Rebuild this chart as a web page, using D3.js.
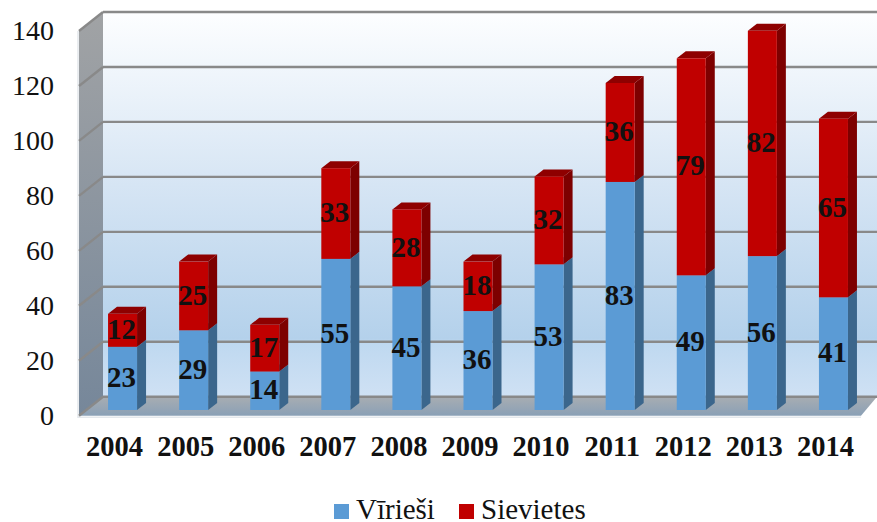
<!DOCTYPE html>
<html>
<head>
<meta charset="utf-8">
<script src="https://cdn.jsdelivr.net/npm/d3@7/dist/d3.min.js"></script>
<style>
html,body{margin:0;padding:0;background:#fff;overflow:hidden}
svg{display:block}
text{font-family:"Liberation Serif",serif;fill:#111}
</style>
</head>
<body>
<div class="canvas"></div>
<script>
const years=['2004','2005','2006','2007','2008','2009','2010','2011','2012','2013','2014'];
const men=[23,29,14,55,45,36,53,83,49,56,41];
const women=[12,25,17,33,28,18,32,36,79,82,65];
const yTicks=[0,20,40,60,80,100,120,140];
const seriesNames=['Vīrieši','Sievietes'];

const svg=d3.select('.canvas').append('svg')
.attr("width",877)
.attr('height',522);

const defs=svg.append('defs');
function gradient(id,stops){
    const g=defs.append('linearGradient').attr('id',id)
    .attr('x1',0).attr('y1',0).attr('x2',0).attr('y2',1);
    stops.forEach(s=>g.append('stop').attr('offset',s[0]).attr('stop-color',s[1]));
}
gradient('backWall',[[0,'#fdfeff'],[0.45,'#d6e5f4'],[0.85,'#b4d1eb'],[0.855,'#bed8f0'],[1,'#cfe1f4']]);
gradient('sideWall',[[0,'#a1a3a5'],[1,'#76879a']]);
gradient('floor',[[0,'#a8adb2'],[1,'#8aa0b6']]);

// front plane of the 3d box, the back wall is shifted by depth
const left=79,right=861,top0=31,bottom0=415.7;
const depth={x:24,y:-19};
const barDepth={x:9,y:-7};
const barShift={x:8,y:-5.7};

const y=d3.scaleLinear().domain([0,140]).range([bottom0,top0]);
const x=d3.scaleBand().domain(years).range([left,right]).paddingInner(0.592).paddingOuter(0.296);

const pts=a=>a.map(p=>p.join(',')).join(' ');

// walls
svg.append('polygon')
.attr('points',pts([[left,y(0)],[left,y(140)],[left+depth.x,y(140)+depth.y],[left+depth.x,y(0)+depth.y]]))
.attr('fill','url(#sideWall)');
svg.append('rect')
.attr('x',left+depth.x).attr('y',y(140)+depth.y)
.attr('width',877-left-depth.x).attr('height',y(0)-y(140))
.attr('fill','url(#backWall)');
svg.append('polygon')
.attr('points',pts([[left,y(0)],[left+depth.x,y(0)+depth.y],[877,y(0)+depth.y],[right,y(0)]]))
.attr('fill','url(#floor)');

// pale edge along the box
svg.append('polyline')
.attr('points',pts([[left-1,y(140)],[left-1,y(0)+1.5],[right,y(0)+1.5]]))
.attr('fill','none').attr('stroke','#e4e8ec').attr('stroke-width',1.5);

// grid
const grid=svg.append('g').attr('fill','none').attr('stroke','#898989').attr('stroke-width',2.4);
grid.selectAll('.back').data(yTicks).enter().append('line')
.attr('x1',left+depth.x).attr('x2',877)
.attr('y1',d=>y(d)+depth.y).attr('y2',d=>y(d)+depth.y);
grid.selectAll('.side').data(yTicks).enter().append('line')
.attr('x1',left).attr('x2',left+depth.x)
.attr('y1',d=>y(d)).attr('y2',d=>y(d)+depth.y);

// bars
function drawSegment(g,x0,w,yBase,yTop,front,side,topFill){
    const d=barDepth;
    g.append('polygon')
    .attr('points',pts([[x0+w,yBase],[x0+w,yTop],[x0+w+d.x,yTop+d.y],[x0+w+d.x,yBase+d.y]]))
    .attr('fill',side);
    g.append('polygon')
    .attr('points',pts([[x0,yTop],[x0+d.x,yTop+d.y],[x0+w+d.x,yTop+d.y],[x0+w,yTop]]))
    .attr('fill',topFill);
    g.append('rect')
    .attr('x',x0).attr('y',yTop).attr('width',w).attr('height',yBase-yTop)
    .attr('fill',front);
}
const bars=svg.append('g');
years.forEach((yr,i)=>{
    const g=bars.append('g');
    const x0=x(yr)+barShift.x,w=x.bandwidth();
    drawSegment(g,x0,w,y(0)+barShift.y,y(men[i])+barShift.y,'#5b9bd5','#3b668c','#4a80b0');
    drawSegment(g,x0,w,y(men[i])+barShift.y,y(men[i]+women[i])+barShift.y,'#c00000','#7d0000','#8e0000');
});

// value labels
const labels=svg.append('g').attr('text-anchor','middle')
.attr('font-size',29).attr('font-weight','bold');
years.forEach((yr,i)=>{
    const cx=x(yr)+barShift.x+x.bandwidth()/2-1;
    labels.append('text').attr('x',cx)
    .attr('y',(y(0)+y(men[i]))/2+barShift.y-1.5).attr('dy','.35em').text(men[i]);
    labels.append('text').attr('x',cx)
    .attr('y',(y(men[i])+y(men[i]+women[i]))/2+barShift.y-1.5).attr('dy','.35em').text(women[i]);
});

// axes
const yAxisGroup=svg.append('g').attr('transform','translate(57,0)');
yAxisGroup.call(d3.axisLeft(y).tickValues(yTicks).tickSize(0).tickPadding(3));
const xAxisGroup=svg.append('g').attr('transform',`translate(0,${bottom0})`);
xAxisGroup.call(d3.axisBottom(x).tickSize(0).tickPadding(20));
yAxisGroup.select('.domain').remove();
xAxisGroup.select('.domain').remove();
yAxisGroup.selectAll('text').attr('font-size',28).attr('fill','#111')
.style('font-family','"Liberation Serif",serif');
xAxisGroup.selectAll('text').attr('font-size',28.5).attr('font-weight','bold').attr('fill','#111')
.style('font-family','"Liberation Serif",serif');

// legend
const legend=svg.append('g');
const legendX=[334,459],legendColors=['#5b9bd5','#c00000'];
const legendTextX=[356,481];
seriesNames.forEach((n,i)=>{
    legend.append('rect').attr('x',legendX[i]).attr('y',504)
    .attr('width',15).attr('height',15).attr('fill',legendColors[i]);
    legend.append('text').attr('x',legendTextX[i]).attr('y',519)
    .attr('font-size',29).text(n);
});
</script>
</body>
</html>
